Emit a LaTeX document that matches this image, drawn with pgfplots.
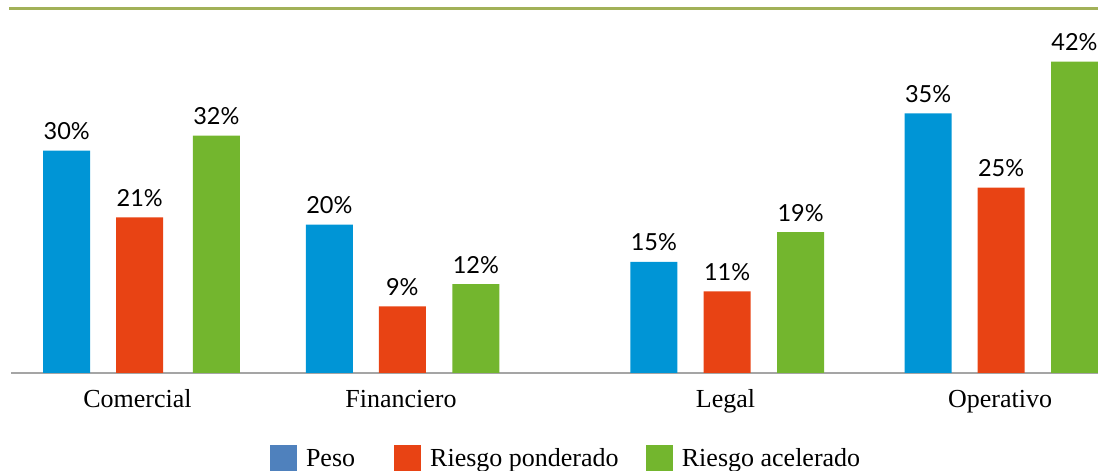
\documentclass[border=0pt]{standalone}
\usepackage{fontspec}
\setmainfont{Liberation Serif}
\newfontfamily\lato{Lato}
\usepackage{pgfplots}
\pgfplotsset{compat=1.18}

\definecolor{barblue}{RGB}{0,149,214}
\definecolor{barred}{RGB}{232,67,20}
\definecolor{bargreen}{RGB}{115,182,46}
\definecolor{legblue}{RGB}{79,129,189}
\definecolor{rulegreen}{RGB}{162,177,88}
\definecolor{axisgray}{RGB}{165,165,165}

\begin{document}
\begin{tikzpicture}
\begin{axis}[
    at={(11pt,98pt)}, anchor=south west,
    width=1087pt, height=364pt, scale only axis,
    xmin=11, xmax=1098,
    ymin=0, ymax=49.08,
    ybar, bar width=47pt, bar shift=0pt,
    axis x line*=bottom, axis y line=none,
    x axis line style={axisgray, line width=1.4pt},
    xtick={137.5,401,725.5,1000},
    xticklabels={Comercial,Financiero,Legal,Operativo},
    major tick length=0pt,
    xticklabel style={font=\fontsize{26}{28}\selectfont, anchor=base, inner sep=0pt, yshift=-34.5pt},
    nodes near coords={\pgfmathprintnumber{\pgfplotspointmeta}\%},
    /pgf/number format/assume math mode=true,
    every node near coord/.append style={font=\lato\fontsize{23.5}{25}\selectfont, anchor=base, inner sep=0pt, yshift=11pt, black},
    legend columns=3,
    legend style={draw=none, fill=none, inner sep=0pt, outer sep=0pt,
        at={(0.2383,-0.1978)}, anchor=north west,
        font=\fontsize{26}{28}\selectfont,
        nodes={inner sep=0pt},
        /tikz/every odd column/.append style={column sep=9pt},
        /tikz/every even column/.append style={column sep=27.2pt}},
]
\addplot[fill=barblue, draw=none,
    legend image code/.code={\fill[legblue] (0pt,-13.5pt) rectangle (27pt,13.5pt);}]
    coordinates {(66.7,30) (329.3,20) (653.9,15) (928.1,35)};
\addlegendentry{\makebox[61pt][l]{Peso}}
\addplot[fill=barred, draw=none,
    legend image code/.code={\fill[barred] (0pt,-13.5pt) rectangle (27pt,13.5pt);}]
    coordinates {(139.7,21) (402.3,9) (727.1,11) (1001.1,25)};
\addlegendentry{Riesgo ponderado}
\addplot[fill=bargreen, draw=none,
    legend image code/.code={\fill[bargreen] (0pt,-13.5pt) rectangle (27pt,13.5pt);}]
    coordinates {(216.3,32) (475.8,12) (800.6,19) (1074.5,42)};
\addlegendentry{Riesgo acelerado}
\end{axis}
\draw[rulegreen, line width=3pt] (9pt,462.5pt) -- (1098pt,462.5pt);
\pgfresetboundingbox
\useasboundingbox (0,0) rectangle (1098pt,471pt);
\end{tikzpicture}
\end{document}
